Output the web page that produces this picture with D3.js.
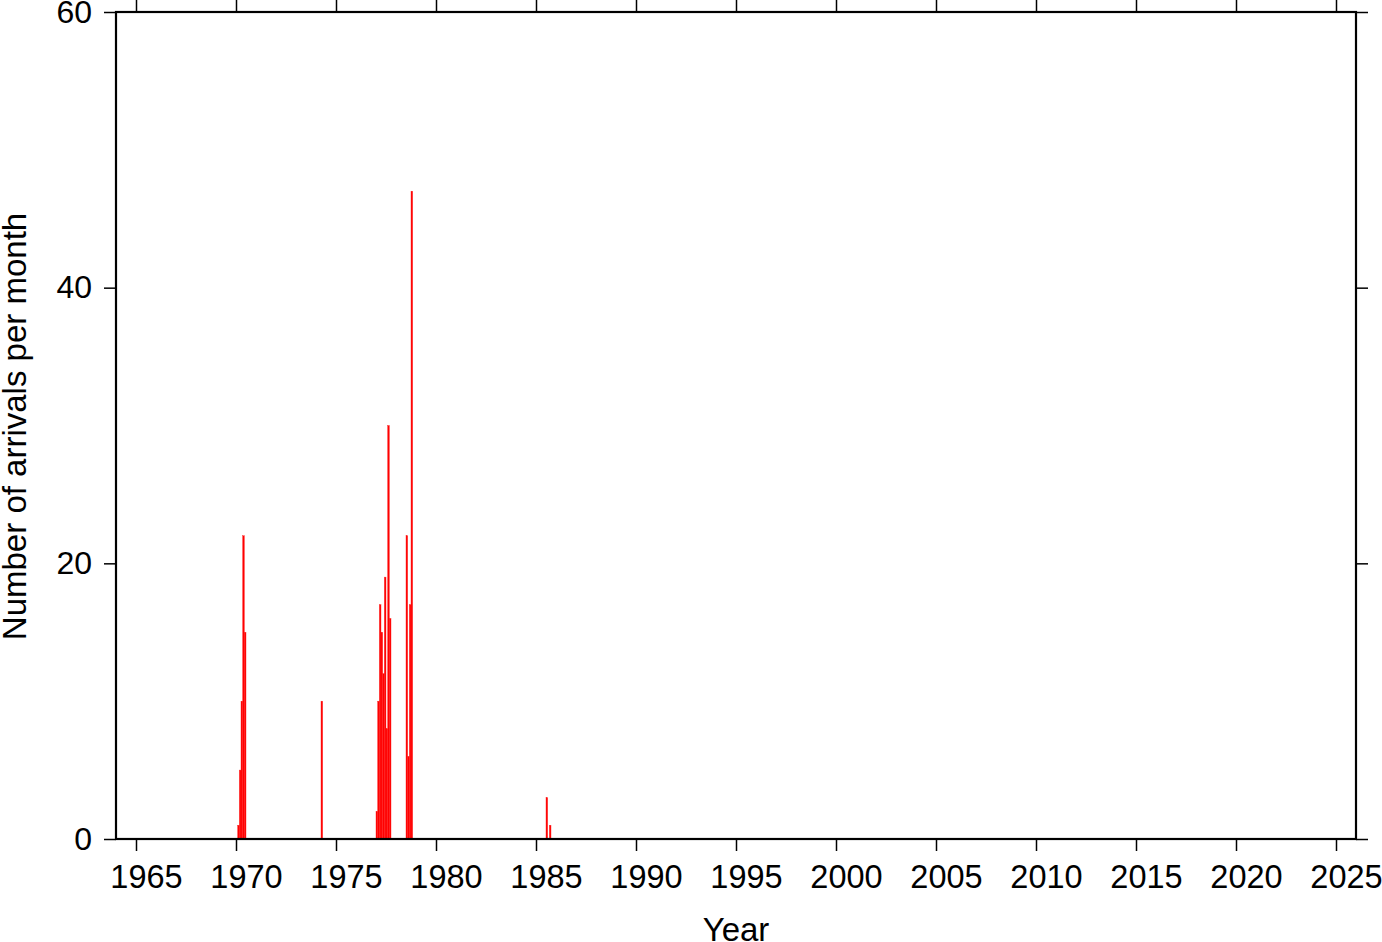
<!DOCTYPE html>
<html>
<head>
<meta charset="utf-8">
<script src="https://cdn.jsdelivr.net/npm/d3@7"></script>
<style>
  html, body { margin: 0; padding: 0; background: #fff; }
  svg { display: block; }
  text { font-family: "Liberation Sans", Arial, Helvetica, sans-serif; fill: #000; }
</style>
</head>
<body>
<svg id="chart" width="1382" height="942"></svg>
<script>
// Monthly arrival counts (year, month 1-12, count)
const barYears  = [1970, 1970, 1970, 1970, 1970, 1974, 1977, 1977, 1977, 1977, 1977, 1977, 1977, 1977, 1977, 1978, 1978, 1978, 1978, 1985, 1985];
const barMonths = [2, 3, 4, 5, 6, 4, 1, 2, 3, 4, 5, 6, 7, 8, 9, 7, 8, 9, 10, 7, 9];
const barCounts = [1, 5, 10, 22, 15, 10, 2, 10, 17, 15, 12, 19, 8, 30, 16, 22, 6, 17, 47, 3, 1];

const xTickValues = [1965, 1970, 1975, 1980, 1985, 1990, 1995, 2000, 2005, 2010, 2015, 2020, 2025];
const yTickValues = [0, 20, 40, 60];
const xDomain = [1964, 2026];
const yDomain = [0, 60];
const xTitle = "Year";
const yTitle = "Number of arrivals per month";

(function () {
const svg = d3.select("#chart");
const L = 116, R = 1356, T = 12, B = 839;

const x = d3.scaleLinear().domain(xDomain).range([L, R]);
const y = d3.scaleLinear().domain(yDomain).range([B, T]);

const data = barYears.map((yr, i) => ({ year: yr, month: barMonths[i], count: barCounts[i] }));

svg.append("g").selectAll("rect")
  .data(data)
  .enter().append("rect")
  .attr("x", d => x(d.year + (d.month - 1) / 12))
  .attr("width", d => x(d.year + d.month / 12) - x(d.year + (d.month - 1) / 12))
  .attr("y", d => y(d.count))
  .attr("height", d => y(0) - y(d.count))
  .attr("fill", "#ff0000")
  .attr("stroke", "#ff2020")
  .attr("stroke-width", 0.4);

const tickLen = 12;
const fontSize = 33;

const gBottom = svg.append("g").attr("transform", `translate(0,${B})`)
  .call(d3.axisBottom(x).tickValues(xTickValues).tickFormat(d3.format("d")).tickSize(tickLen).tickPadding(14));
const gTop = svg.append("g").attr("transform", `translate(0,${T})`)
  .call(d3.axisTop(x).tickValues(xTickValues).tickFormat("").tickSize(tickLen));
const gLeft = svg.append("g").attr("transform", `translate(${L},0)`)
  .call(d3.axisLeft(y).tickValues(yTickValues).tickFormat(d3.format("d")).tickSize(tickLen).tickPadding(12));
const gRight = svg.append("g").attr("transform", `translate(${R},0)`)
  .call(d3.axisRight(y).tickValues(yTickValues).tickFormat("").tickSize(tickLen));

[gBottom, gTop, gLeft, gRight].forEach(g => {
  g.select(".domain").remove();
  g.selectAll(".tick line").attr("stroke", "#000").attr("stroke-width", 1.5);
  g.selectAll(".tick text").attr("font-size", fontSize).attr("font-family", '"Liberation Sans", Arial, sans-serif').attr("fill", "#000");
});
gBottom.selectAll(".tick text").attr("dx", 10).attr("font-size", 32.5);
gLeft.selectAll(".tick text").attr("font-size", 32);

svg.append("rect")
  .attr("x", L).attr("y", T)
  .attr("width", R - L).attr("height", B - T)
  .attr("fill", "none").attr("stroke", "#000").attr("stroke-width", 2.2);

svg.append("text")
  .attr("x", (L + R) / 2).attr("y", 941)
  .attr("text-anchor", "middle")
  .attr("font-size", 33)
  .text(xTitle);

svg.append("text")
  .attr("transform", `translate(26,${(T + B) / 2 + 1}) rotate(-90)`)
  .attr("text-anchor", "middle")
  .attr("font-size", 33)
  .text(yTitle);
})();
</script>
</body>
</html>
